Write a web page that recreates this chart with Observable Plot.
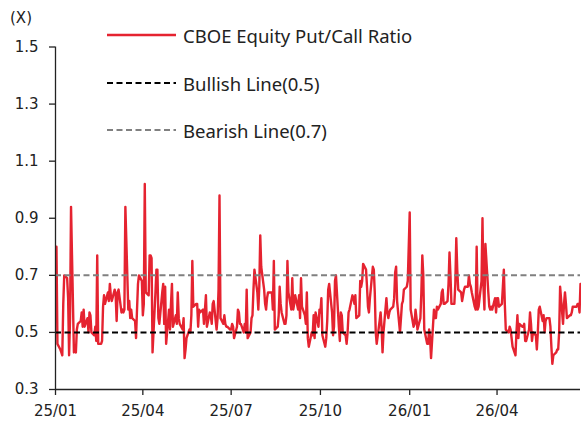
<!DOCTYPE html>
<html><head><meta charset="utf-8">
<script src="https://cdn.jsdelivr.net/npm/d3@7"></script>
<script src="https://cdn.jsdelivr.net/npm/@observablehq/plot@0.6"></script>
<style>
html,body{margin:0;padding:0;background:#fff;overflow:hidden}
#wrap{position:relative;width:581px;height:423px;font-family:"Noto Sans",sans-serif;color:#222}
#unit{position:absolute;left:10px;top:9px;font-family:"DejaVu Sans",sans-serif;font-size:15px;line-height:18px}
.leg{position:absolute;left:107px;height:24px;display:flex;align-items:center;font-size:18.5px;white-space:nowrap}
.leg svg{margin-right:7px}
</style></head>
<body><div id="wrap"><div id="unit">(X)</div></div>
<script>
// CBOE equity put/call ratio, one value per weekday from startDate
const startDate = "2025-01-02";
const putCall = [
0.80,0.46,0.44,0.43,0.42,0.60,0.70,0.69,0.62,0.42,
0.55,0.94,0.43,0.44,0.43,0.51,0.53,0.54,0.57,0.52,
0.58,0.52,0.55,0.50,0.57,0.56,0.50,0.49,0.52,
0.47,0.77,0.46,0.46,0.47,0.59,0.63,0.60,0.64,0.61,
0.67,0.63,0.61,0.65,0.63,0.54,0.64,0.65,0.57,0.58,
0.57,0.58,0.94,0.58,0.61,0.55,0.58,0.55,0.54,0.48,
0.58,0.67,0.70,0.68,
0.56,0.60,1.02,0.64,0.63,0.77,0.77,0.76,0.43,0.64,
0.72,0.72,0.55,0.53,0.64,0.67,0.53,0.66,0.46,0.58,
0.51,0.60,0.67,0.52,0.56,0.53,0.64,0.55,0.53,
0.51,0.55,0.41,0.44,0.48,0.51,0.50,0.56,0.75,0.59,
0.60,0.60,0.52,0.58,0.57,0.58,0.53,0.58,0.63,0.52,
0.57,0.56,0.53,0.60,0.61,0.51,0.55,0.65,0.98,0.55,
0.53,0.56,0.53,0.52,0.52,0.51,0.51,
0.53,0.52,0.48,0.52,0.58,0.57,0.53,0.53,0.50,0.53,
0.50,0.65,0.48,0.50,0.55,0.56,0.65,0.72,0.64,0.58,
0.66,0.84,0.73,0.65,0.60,0.58,0.62,0.64,0.64,0.64,
0.58,0.75,0.51,0.52,0.56,0.66,0.60,0.57,0.53,
0.53,0.56,0.75,0.64,0.58,0.69,0.58,0.60,0.63,0.58,
0.63,0.55,0.69,0.59,0.56,0.53,0.64,0.48,0.45,0.50,
0.49,0.56,0.48,0.57,0.52,0.58,0.57,
0.62,0.49,0.45,0.48,0.54,0.65,0.67,0.57,0.49,0.52,
0.68,0.70,0.52,0.47,0.57,0.56,0.50,0.49,0.46,
0.50,0.57,0.58,0.63,0.62,0.60,0.63,0.55,0.56,0.68,
0.66,0.68,0.74,0.72,0.66,0.59,0.57,0.62,0.73,0.72,
0.64,0.50,0.46,0.54,0.57,0.52,0.43,0.50,0.62,0.57,
0.55,0.57,0.58,0.59,0.62,0.71,0.73,0.61,0.50,0.55,
0.60,0.61,0.65,0.66,0.68,0.80,0.92,0.58,
0.52,0.53,0.58,0.55,0.51,0.55,0.64,0.77,0.70,0.51,
0.46,0.46,0.51,0.48,0.41,0.58,0.55,0.55,0.59,0.58,
0.60,0.64,0.65,0.60,0.60,0.61,0.67,0.78,0.70,0.60,
0.60,0.67,0.83,0.72,0.65,0.64,0.61,0.63,0.65,
0.66,0.66,0.70,0.67,0.66,0.64,0.59,0.58,0.80,0.58,
0.59,0.68,0.90,0.66,0.58,0.81,0.64,0.59,0.58,0.59,
0.58,0.62,0.57,0.62,0.62,0.59,0.60,0.66,
0.72,0.60,0.51,0.50,0.52,0.51,0.48,0.45,0.42,0.50,
0.56,0.48,0.53,0.52,0.52,0.53,0.47,0.47,0.51,
0.57,0.53,0.47,0.50,0.49,0.44,0.50,0.58,0.59,0.54,
0.56,0.50,0.54,0.55,0.55,0.52,0.45,0.39,0.42,0.43,
0.44,0.44,0.50,0.66,0.53,0.60,0.64,0.60,0.55,0.56,
0.56,0.57,0.59,0.59,0.59,0.60,0.60,0.57,0.67
];
const bullishLevel = 0.5;
const bearishLevel = 0.7;
const seriesNames = ["CBOE Equity Put/Call Ratio", "Bullish Line(0.5)", "Bearish Line(0.7)"];
const yTicks = [0.3, 0.5, 0.7, 0.9, 1.1, 1.3, 1.5];
const xTicks = ["2025-01-01", "2025-04-01", "2025-07-01", "2025-10-01", "2026-01-01", "2026-04-01"];
const xTickLabels = ["25/01", "25/04", "25/07", "25/10", "26/01", "26/04"];
const yDomain = [0.3, 1.5];

const RED = "#e52330", BLACK = "#000000", GRAY = "#808080", AXIS = "#222";

// weekday calendar for the series
const weekdays = d3.utcDay.range(new Date(startDate), new Date("2027-01-01"))
  .filter(d => d.getUTCDay() !== 0 && d.getUTCDay() !== 6);
const data = putCall.map((v, i) => ({date: weekdays[i], value: v}));
const xStart = new Date(xTicks[0]);
const xEnd = data[data.length - 1].date;
const tickDates = xTicks.map(s => new Date(s));
const fmtX = d => xTickLabels[tickDates.findIndex(t => +t === +d)];

const plot = Plot.plot({
  width: 581, height: 423,
  marginLeft: 55, marginRight: 1, marginTop: 46.5, marginBottom: 34,
  style: {fontFamily: '"DejaVu Sans", sans-serif', fontSize: "15px", color: AXIS, background: "transparent"},
  x: {type: "utc", domain: [xStart, xEnd], label: null},
  y: {domain: yDomain, label: null},
  marks: [
    Plot.lineY(data, {x: "date", y: "value", stroke: RED, strokeWidth: 2.4}),
    Plot.ruleY([bullishLevel], {stroke: BLACK, strokeWidth: 2, strokeDasharray: "6,3.5"}),
    Plot.ruleY([bearishLevel], {stroke: GRAY, strokeWidth: 2, strokeDasharray: "6,3.5"}),
    Plot.ruleY([yDomain[0]], {stroke: AXIS, strokeWidth: 1.3}),
    Plot.ruleX([xStart], {stroke: AXIS, strokeWidth: 1.3}),
    Plot.axisX({ticks: tickDates, tickFormat: fmtX, tickSize: 6, tickPadding: 10, stroke: AXIS, strokeWidth: 1.3}),
    Plot.axisY({ticks: yTicks, tickFormat: d3.format(".1f"), tickSize: 6, tickPadding: 11, stroke: AXIS, strokeWidth: 1.3})
  ]
});
const wrap = document.getElementById("wrap");
plot.style.position = "absolute";
plot.style.left = "0";
plot.style.top = "0";
wrap.appendChild(plot);

// legend
const legendItems = [
  {name: seriesNames[0], color: RED, dash: null, top: 23},
  {name: seriesNames[1], color: BLACK, dash: "6,3.5", top: 71},
  {name: seriesNames[2], color: GRAY, dash: "6,3.5", top: 118}
];
legendItems.forEach(it => {
  const div = document.createElement("div");
  div.className = "leg";
  div.style.top = it.top + "px";
  div.innerHTML = `<svg width="69" height="20"><line x1="0" x2="69" y1="10" y2="10" stroke="${it.color}" stroke-width="${it.dash ? 2 : 2.4}" ${it.dash ? `stroke-dasharray="${it.dash}"` : ""}/></svg><span>${it.name}</span>`;
  wrap.appendChild(div);
});
</script>
</body></html>
